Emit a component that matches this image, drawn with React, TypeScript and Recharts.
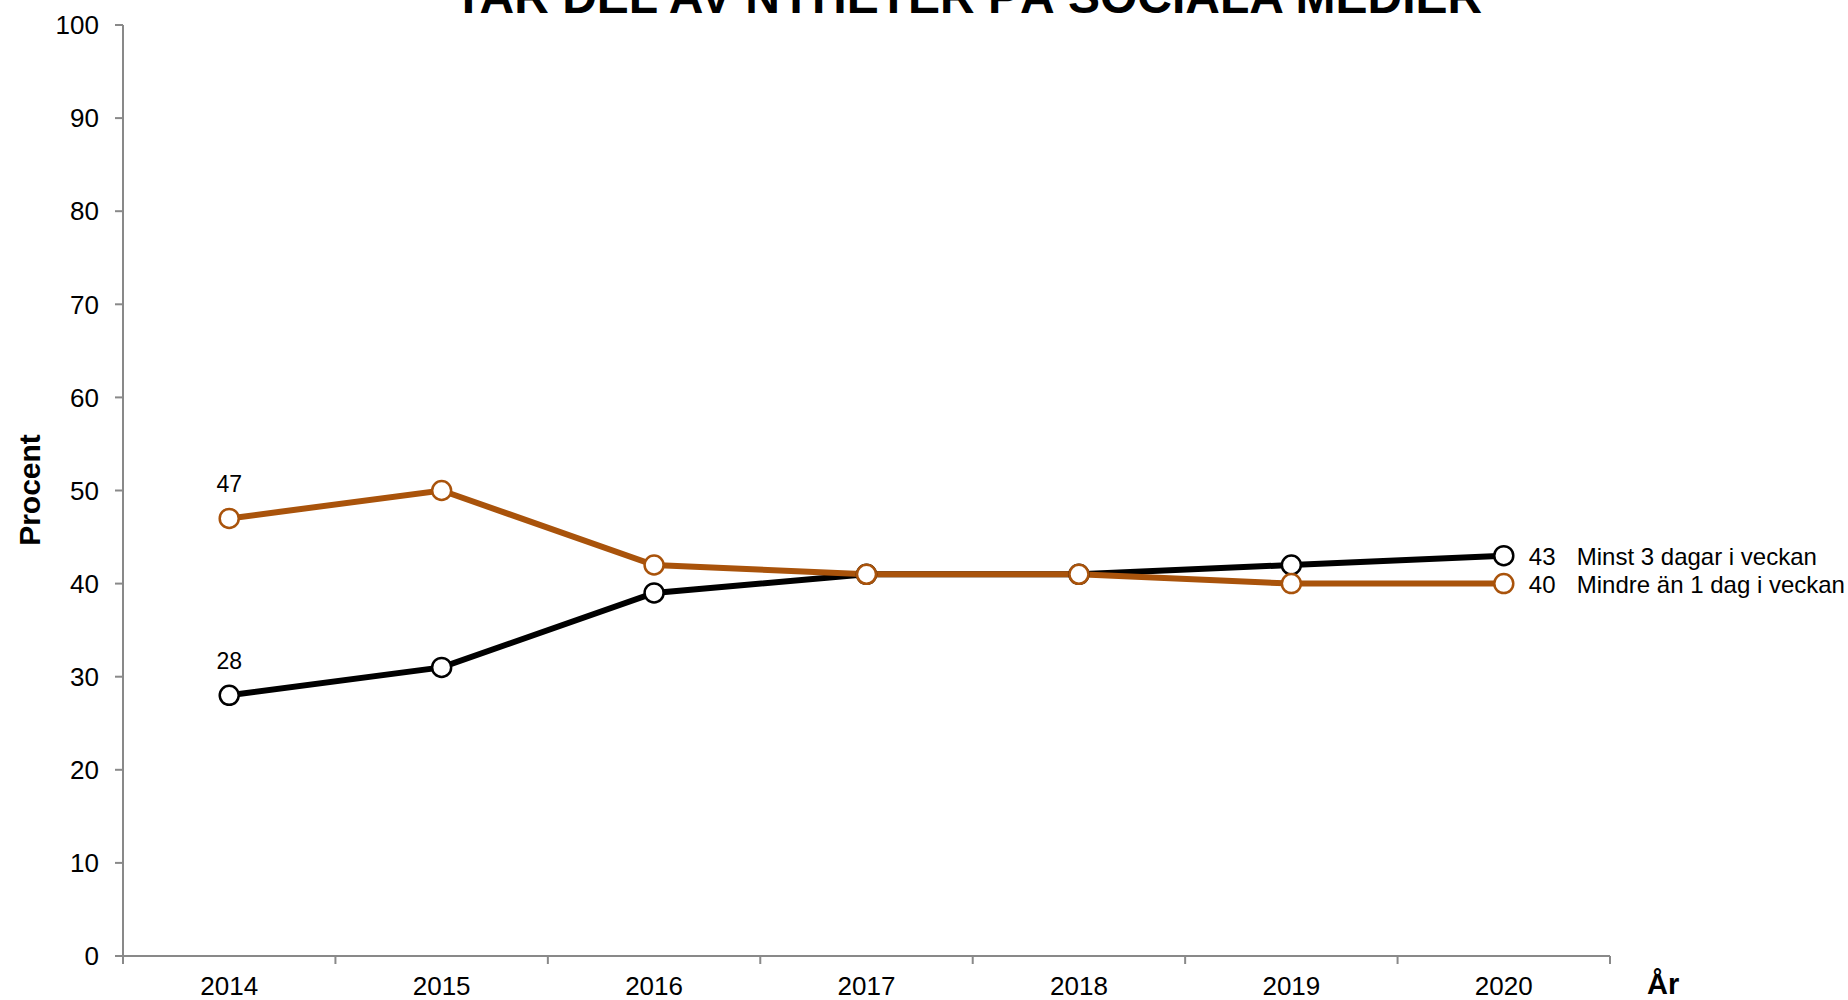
import React from 'react';
import { LineChart, Line, XAxis, YAxis, LabelList } from 'recharts';

const years = ['2014', '2015', '2016', '2017', '2018', '2019', '2020'];
const minst3Dagar = [28, 31, 39, 41, 41, 42, 43];
const mindreAn1Dag = [47, 50, 42, 41, 41, 40, 40];
const yTicks = [0, 10, 20, 30, 40, 50, 60, 70, 80, 90, 100];

const seriesNames = {
    minst: 'Minst 3 dagar i veckan',
    mindre: 'Mindre än 1 dag i veckan',
};

const ORANGE = '#A9530B';
const AXIS = '#898989';
const FONT = '"Liberation Sans", Arial, sans-serif';

// boundary ticks sit between the years, labels sit on the years
const boundaryTicks = years.map((_, i) => i - 0.5).concat(years.length - 0.5);
const centerTicks = years.map((_, i) => i);

const data = years.map((year, i) => ({
    idx: i,
    year,
    minst: minst3Dagar[i],
    mindre: mindreAn1Dag[i],
}));

const makeLabel = (name: string) => (props: any) => {
    const { x, y, index, value } = props;
    if (index === 0) {
        return (
            <text x={x} y={y - 26} textAnchor="middle" fontSize={23} fontFamily={FONT} fill="#000">
                {value}
            </text>
        );
    }
    if (index === years.length - 1) {
        return (
            <g>
                <text x={x + 25} y={y + 9} fontSize={24} fontFamily={FONT} fill="#000">{value}</text>
                <text x={x + 73} y={y + 9} fontSize={24} fontFamily={FONT} fill="#000">{name}</text>
            </g>
        );
    }
    return null;
};

const App: React.FC = () => {
    return (
        <div style={{ position: 'absolute', left: 0, top: 0, width: 1848, height: 1000, background: '#fff', fontFamily: FONT, overflow: 'hidden' }}>
            <LineChart width={1848} height={1000} data={data} margin={{ top: 25, right: 238, left: 0, bottom: 0 }}>
                <XAxis
                    xAxisId="grid"
                    dataKey="idx"
                    type="number"
                    domain={[-0.5, years.length - 0.5]}
                    ticks={boundaryTicks}
                    interval={0}
                    tick={() => <g />}
                    tickSize={8}
                    height={1}
                    axisLine={{ stroke: AXIS, strokeWidth: 2 }}
                    tickLine={{ stroke: AXIS, strokeWidth: 2 }}
                />
                <XAxis
                    xAxisId="labels"
                    dataKey="idx"
                    type="number"
                    domain={[-0.5, years.length - 0.5]}
                    ticks={centerTicks}
                    tickFormatter={(v) => years[v]}
                    interval={0}
                    axisLine={false}
                    tickLine={false}
                    tickMargin={14}
                    height={43}
                    tick={{ fill: '#000', fontSize: 26, fontFamily: FONT }}
                />
                <YAxis
                    domain={[0, 100]}
                    ticks={yTicks}
                    interval={0}
                    width={123}
                    tickSize={8}
                    tickMargin={16}
                    axisLine={{ stroke: AXIS, strokeWidth: 2 }}
                    tickLine={{ stroke: AXIS, strokeWidth: 2 }}
                    tick={{ fill: '#000', fontSize: 26, fontFamily: FONT }}
                />
                <Line
                    xAxisId="grid"
                    type="linear"
                    dataKey="minst"
                    stroke="#000"
                    strokeWidth={6}
                    dot={{ r: 9.5, fill: '#fff', stroke: '#000', strokeWidth: 2.5 }}
                    activeDot={false}
                    isAnimationActive={false}
                >
                    <LabelList dataKey="minst" content={makeLabel(seriesNames.minst)} />
                </Line>
                <Line
                    xAxisId="grid"
                    type="linear"
                    dataKey="mindre"
                    stroke={ORANGE}
                    strokeWidth={6}
                    dot={{ r: 9.5, fill: '#fff', stroke: ORANGE, strokeWidth: 2.5 }}
                    activeDot={false}
                    isAnimationActive={false}
                >
                    <LabelList dataKey="mindre" content={makeLabel(seriesNames.mindre)} />
                </Line>
            </LineChart>

            {/* title, cut off at the top like in the source */}
            <div style={{ position: 'absolute', left: 0, width: 1936, top: -33, textAlign: 'center', fontSize: 48, fontWeight: 'bold', lineHeight: '60px', whiteSpace: 'nowrap' }}>
                TAR DEL AV NYHETER PÅ SOCIALA MEDIER
            </div>
            <div style={{ position: 'absolute', left: 30, top: 490, transform: 'translate(-50%, -50%) rotate(-90deg)', fontSize: 30, fontWeight: 'bold', whiteSpace: 'nowrap' }}>
                Procent
            </div>
            <div style={{ position: 'absolute', left: 1647, top: 966, fontSize: 29, fontWeight: 'bold', lineHeight: '36px' }}>
                År
            </div>
        </div>
    );
};

export default App;
